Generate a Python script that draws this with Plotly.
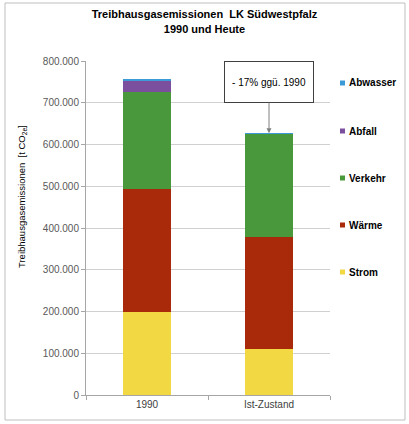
import plotly.graph_objects as go

# Werte in t CO2e
categories = ["1990", "Ist-Zustand"]
strom = [200000, 110000]
waerme = [293000, 268000]
verkehr = [233000, 248000]
abfall = [28000, 800]
abwasser = [3000, 200]

series = [
    ("Strom", strom, "#F2D843"),
    ("Wärme", waerme, "#A82A0A"),
    ("Verkehr", verkehr, "#4A983C"),
    ("Abfall", abfall, "#7B4E9E"),
    ("Abwasser", abwasser, "#3C9AD6"),
]

FONT = "Arial, Liberation Sans, sans-serif"
L, R, T, B = 86, 79, 61, 29
W, H = 409, 424
PW, PH = W - L - R, H - T - B


def px_x(px):
    return (px - L) / PW


def px_y(py):
    return (H - B - py) / PH


fig = go.Figure()
for name, vals, col in series:
    fig.add_trace(go.Bar(
        x=categories, y=vals, name=name,
        marker=dict(color=col, line=dict(width=0)),
    ))

total_1990 = sum(s[0] for _, s, _ in series)
total_now = sum(s[1] for _, s, _ in series)
change = round((total_now / total_1990 - 1) * 100)

fig.update_layout(
    width=W, height=H,
    margin=dict(l=L, r=R, t=T, b=B, autoexpand=False),
    barmode="stack",
    bargap=0.6,
    separators=",.",
    paper_bgcolor="white",
    plot_bgcolor="white",
    font=dict(family=FONT, size=10, color="#404040"),
    title=dict(
        text="<b>Treibhausgasemissionen  LK Südwestpfalz<br>1990 und Heute</b>",
        x=0.5, xanchor="center", y=0.957, yanchor="top",
        font=dict(size=11, color="#000000"),
    ),
    showlegend=False,
)

fig.update_xaxes(
    showline=True, linecolor="#A6A6A6", linewidth=1,
    ticks="outside", tickson="boundaries", ticklen=4, tickcolor="#A6A6A6",
    tickfont=dict(size=10, color="#404040"),
    showgrid=False,
)
fig.update_yaxes(
    range=[0, 800000], dtick=100000, tickformat=",d",
    showline=True, linecolor="#A6A6A6", linewidth=1,
    ticks="outside", ticklen=4, tickcolor="#A6A6A6",
    showgrid=True, gridcolor="#D0D0D0", gridwidth=1,
    tickfont=dict(size=10, color="#595959"),
    zeroline=False,
)

# Legende von Hand (kleine Quadrate, fett, weit gestreut)
leg_y = [272, 225, 178, 131, 83]
for (name, vals, col), ly in zip(series, leg_y):
    fig.add_shape(
        type="rect", xref="paper", yref="paper",
        x0=px_x(340), x1=px_x(345), y0=px_y(ly + 2.5), y1=px_y(ly - 2.5),
        fillcolor=col, line=dict(width=0),
    )
    fig.add_annotation(
        xref="paper", yref="paper", x=px_x(347), y=px_y(ly),
        xanchor="left", yanchor="middle", showarrow=False,
        text="<b>%s</b>" % name,
        font=dict(size=10, color="#000000"),
    )

# y-Achsentitel
fig.add_annotation(
    xref="paper", yref="paper", x=px_x(22), y=px_y(197),
    xanchor="center", yanchor="middle",
    text="Treibhausgasemissionen  [t CO<sub>2e</sub>]",
    textangle=-90, showarrow=False,
    font=dict(size=9.5, color="#000000"),
)

# Hinweisbox mit Pfeil
fig.add_annotation(
    x="Ist-Zustand", y=total_now, xref="x", yref="y",
    text="- %d%% ggü. 1990" % abs(change),
    showarrow=True, ax=0, ay=-51,
    arrowhead=2, arrowsize=1, arrowwidth=1, arrowcolor="#808080",
    bordercolor="#404040", borderwidth=1, borderpad=2,
    bgcolor="white", width=84, height=36,
    font=dict(size=10, color="#000000"),
)

# Rahmen um das Diagramm
fig.add_shape(
    type="rect", xref="paper", yref="paper",
    x0=px_x(5), x1=px_x(405), y0=px_y(420), y1=px_y(3),
    line=dict(color="#BFBFBF", width=1),
)

fig.write_html(
    "out.html",
    config={"displayModeBar": False},
    post_script="document.body.style.margin='0';",
)
